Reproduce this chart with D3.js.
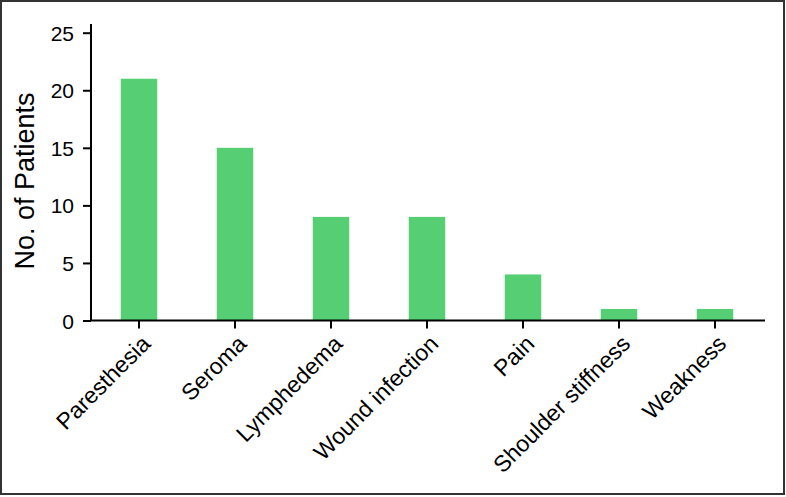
<!DOCTYPE html>
<html>
<head>
<meta charset="utf-8">
<script src="https://cdn.jsdelivr.net/npm/d3@7"></script>
<style>
  body { margin: 0; background: #fff; }
  svg text { font-family: "Liberation Sans", Arial, sans-serif; fill: #000; }
</style>
</head>
<body>
<div id="chart"></div>
<script>
// complications, no. of patients
var categories = ["Paresthesia", "Seroma", "Lymphedema", "Wound infection", "Pain", "Shoulder stiffness", "Weakness"];
var patients = [21, 15, 9, 9, 4, 1, 1];
var yTicks = [0, 5, 10, 15, 20, 25];

var width = 786, height = 497;

var svg = d3.select("#chart").append("svg")
    .attr("width", width)
    .attr("height", height);

// frame
svg.append("rect")
    .attr("x", 1).attr("y", 1)
    .attr("width", 783).attr("height", 493)
    .attr("fill", "none")
    .attr("stroke", "#333")
    .attr("stroke-width", 2);

var x = d3.scaleBand()
    .domain(categories)
    .range([91, 763])
    .paddingInner(0.62)
    .paddingOuter(0.31);

var y = d3.scaleLinear()
    .domain([0, 25])
    .range([320.5, 32.7]);

// bars
svg.selectAll(".bar")
    .data(patients)
    .enter().append("rect")
    .attr("class", "bar")
    .attr("x", function(d, i) { return x(categories[i]); })
    .attr("y", function(d) { return y(d); })
    .attr("width", x.bandwidth())
    .attr("height", function(d) { return y(0) - y(d); })
    .attr("fill", "#55ce74");

// y axis
var yAxis = svg.append("g")
    .attr("transform", "translate(91,0)")
    .call(d3.axisLeft(y).tickValues(yTicks).tickSize(8).tickPadding(9).tickSizeOuter(0));
yAxis.select(".domain").attr("d", "M0,24V320.5").attr("stroke-width", 2);
yAxis.selectAll(".tick line").attr("stroke-width", 2);
yAxis.selectAll(".tick text").style("font-size", "21px").attr("dy", "0.36em");

// x axis
var xAxis = svg.append("g")
    .attr("transform", "translate(0,320.5)")
    .call(d3.axisBottom(x).tickSize(8).tickSizeOuter(0));
xAxis.select(".domain").attr("d", "M90,0H765").attr("stroke-width", 2);
xAxis.selectAll(".tick line").attr("stroke-width", 2);
xAxis.selectAll(".tick text")
    .style("font-size", "23px")
    .attr("text-anchor", "end")
    .attr("x", 0).attr("y", 0).attr("dy", "0.35em")
    .attr("transform", "translate(7,19) rotate(-45)");

svg.append("text")
    .attr("transform", "translate(34,181) rotate(-90)")
    .attr("text-anchor", "middle")
    .style("font-size", "27px")
    .text("No. of Patients");
</script>
</body>
</html>
